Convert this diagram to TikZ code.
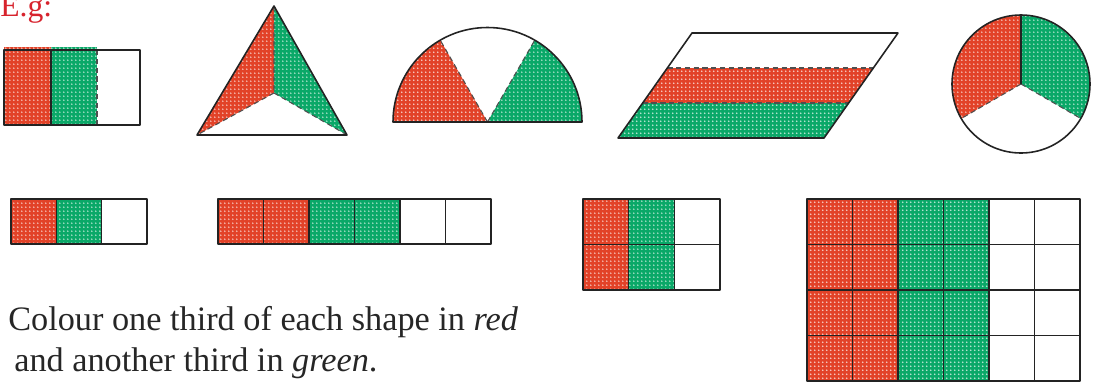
\documentclass[tikz,border=0pt]{standalone}
\usepackage{fontspec}
\setmainfont{Liberation Serif}
\usetikzlibrary{patterns,calc}
\definecolor{redc}{RGB}{226,66,40}
\definecolor{greenc}{RGB}{10,168,104}
\definecolor{linec}{RGB}{35,35,35}
\definecolor{egred}{RGB}{215,35,45}
\pgfdeclarepatternformonly{wdots}{\pgfpointorigin}{\pgfpoint{2.4pt}{2.4pt}}{\pgfpoint{2.4pt}{2.4pt}}{%
  \pgfpathcircle{\pgfpoint{1.2pt}{1.2pt}}{0.55pt}\pgfusepath{fill}}
\tikzset{
  redfill/.style={fill=redc, postaction={pattern=wdots, pattern color=white!75!redc}},
  greenfill/.style={fill=greenc, postaction={pattern=wdots, pattern color=white!75!greenc}},
  outline/.style={draw=linec, line width=0.9pt, line join=round},
  thin grid/.style={draw=linec, line width=0.6pt},
  dashline/.style={draw=linec!80, line width=0.6pt, dashed, dash pattern=on 3pt off 2pt},
  label text/.style={font=\fontsize{19.5}{23}\selectfont, inner sep=0pt, text=black!85}
}
\begin{document}
\begin{tikzpicture}[x=0.02cm, y=-0.02cm]
\useasboundingbox (0,0) rectangle (1093,383);

% E.g:
\node[font=\fontsize{18}{21}\selectfont, inner sep=0pt, text=egred, anchor=base west] (eg) at (0,16) {E.g:};

% 1. rectangle
\path[redfill] (4,47) rectangle (51,125);
\path[greenfill] (51,47) rectangle (97,125);
\draw[thin grid] (51,50) -- (51,125);
\draw[dashline] (97,50) -- (97,125);
\draw[outline] (4,50) rectangle (140,125);

% 2. triangle
\coordinate (tA) at (274,6);
\coordinate (tB) at (197,135);
\coordinate (tC) at (347,135);
\coordinate (tP) at (274,93);
\path[redfill] (tA) -- (tP) -- (tB) -- cycle;
\path[greenfill] (tA) -- (tC) -- (tP) -- cycle;
\draw[dashline] (tA) -- (tP) (tP) -- (tB) (tP) -- (tC);
\draw[outline] (tA) -- (tB) -- (tC) -- cycle;

% 3. semicircle
\coordinate (sO) at (487.5,122);
\coordinate (sL) at (393,122);
\coordinate (sR) at (582,122);
\coordinate (s240) at (440.25,40.16);
\coordinate (s300) at (534.75,40.16);
\path[redfill] (sO) -- (sL) arc[start angle=180, end angle=240, radius=94.5] -- cycle;
\path[greenfill] (sO) -- (sR) arc[start angle=360, end angle=300, radius=94.5] -- cycle;
\draw[dashline] (sO) -- (s240) (sO) -- (s300);
\draw[outline] (sL) arc[start angle=180, end angle=360, radius=94.5] -- cycle;

% 4. parallelogram
\coordinate (pTL) at (692,33);
\coordinate (pTR) at (898,33);
\coordinate (pBR) at (824,138);
\coordinate (pBL) at (618,138);
\coordinate (pL1) at (667.3,68);
\coordinate (pR1) at (873.3,68);
\coordinate (pL2) at (642.7,103);
\coordinate (pR2) at (848.7,103);
\path[redfill] (pL1) -- (pR1) -- (pR2) -- (pL2) -- cycle;
\path[greenfill] (pL2) -- (pR2) -- (pBR) -- (pBL) -- cycle;
\draw[dashline] (pL1) -- (pR1) (pL2) -- (pR2);
\draw[outline] (pTL) -- (pTR) -- (pBR) -- (pBL) -- cycle;

% 5. circle
\coordinate (cO) at (1021,84);
\path[redfill] (cO) -- ++(150:69) arc[start angle=150, end angle=270, radius=69] -- cycle;
\path[greenfill] (cO) -- ++(270:69) arc[start angle=270, end angle=390, radius=69] -- cycle;
\draw[dashline] (cO) -- ++(150:69) (cO) -- ++(30:69);
\draw[thin grid] (cO) -- ++(270:69);
\draw[outline] (cO) circle[radius=69];

% 6. strip of 3
\path[redfill] (11,199) rectangle (56.3,244);
\path[greenfill] (56.3,199) rectangle (101.7,244);
\foreach \i in {1,2} \draw[thin grid] (11+\i*45.33,199) -- (11+\i*45.33,244);
\draw[outline] (11,199) rectangle (147,244);

% 7. strip of 6
\path[redfill] (218,199) rectangle (309,244);
\path[greenfill] (309,199) rectangle (400,244);
\foreach \i in {1,...,5} \draw[thin grid] (218+\i*45.5,199) -- (218+\i*45.5,244);
\draw[outline] (218,199) rectangle (491,244);

% 8. grid 3x2
\path[redfill] (583,199) rectangle (628.7,290);
\path[greenfill] (628.7,199) rectangle (674.3,290);
\foreach \i in {1,2} \draw[thin grid] (583+\i*45.67,199) -- (583+\i*45.67,290);
\draw[thin grid] (583,244.5) -- (720,244.5);
\draw[outline] (583,199) rectangle (720,290);

% 9. grid 6x4
\path[redfill] (807,199) rectangle (898,381);
\path[greenfill] (898,199) rectangle (989,381);
\foreach \i in {1,...,5} \draw[thin grid] (807+\i*45.5,199) -- (807+\i*45.5,381);
\foreach \j in {1,2,3} \draw[thin grid] (807,199+\j*45.5) -- (1080,199+\j*45.5);
\draw[outline] (807,199) rectangle (1080,381);

% text
\node[label text, anchor=base west] (line1) at (8,330) {Colour one third of each shape in \textit{red}};
\node[label text, anchor=base west] (line2) at (14,371) {and another third in \textit{green}.};
\end{tikzpicture}
\end{document}
